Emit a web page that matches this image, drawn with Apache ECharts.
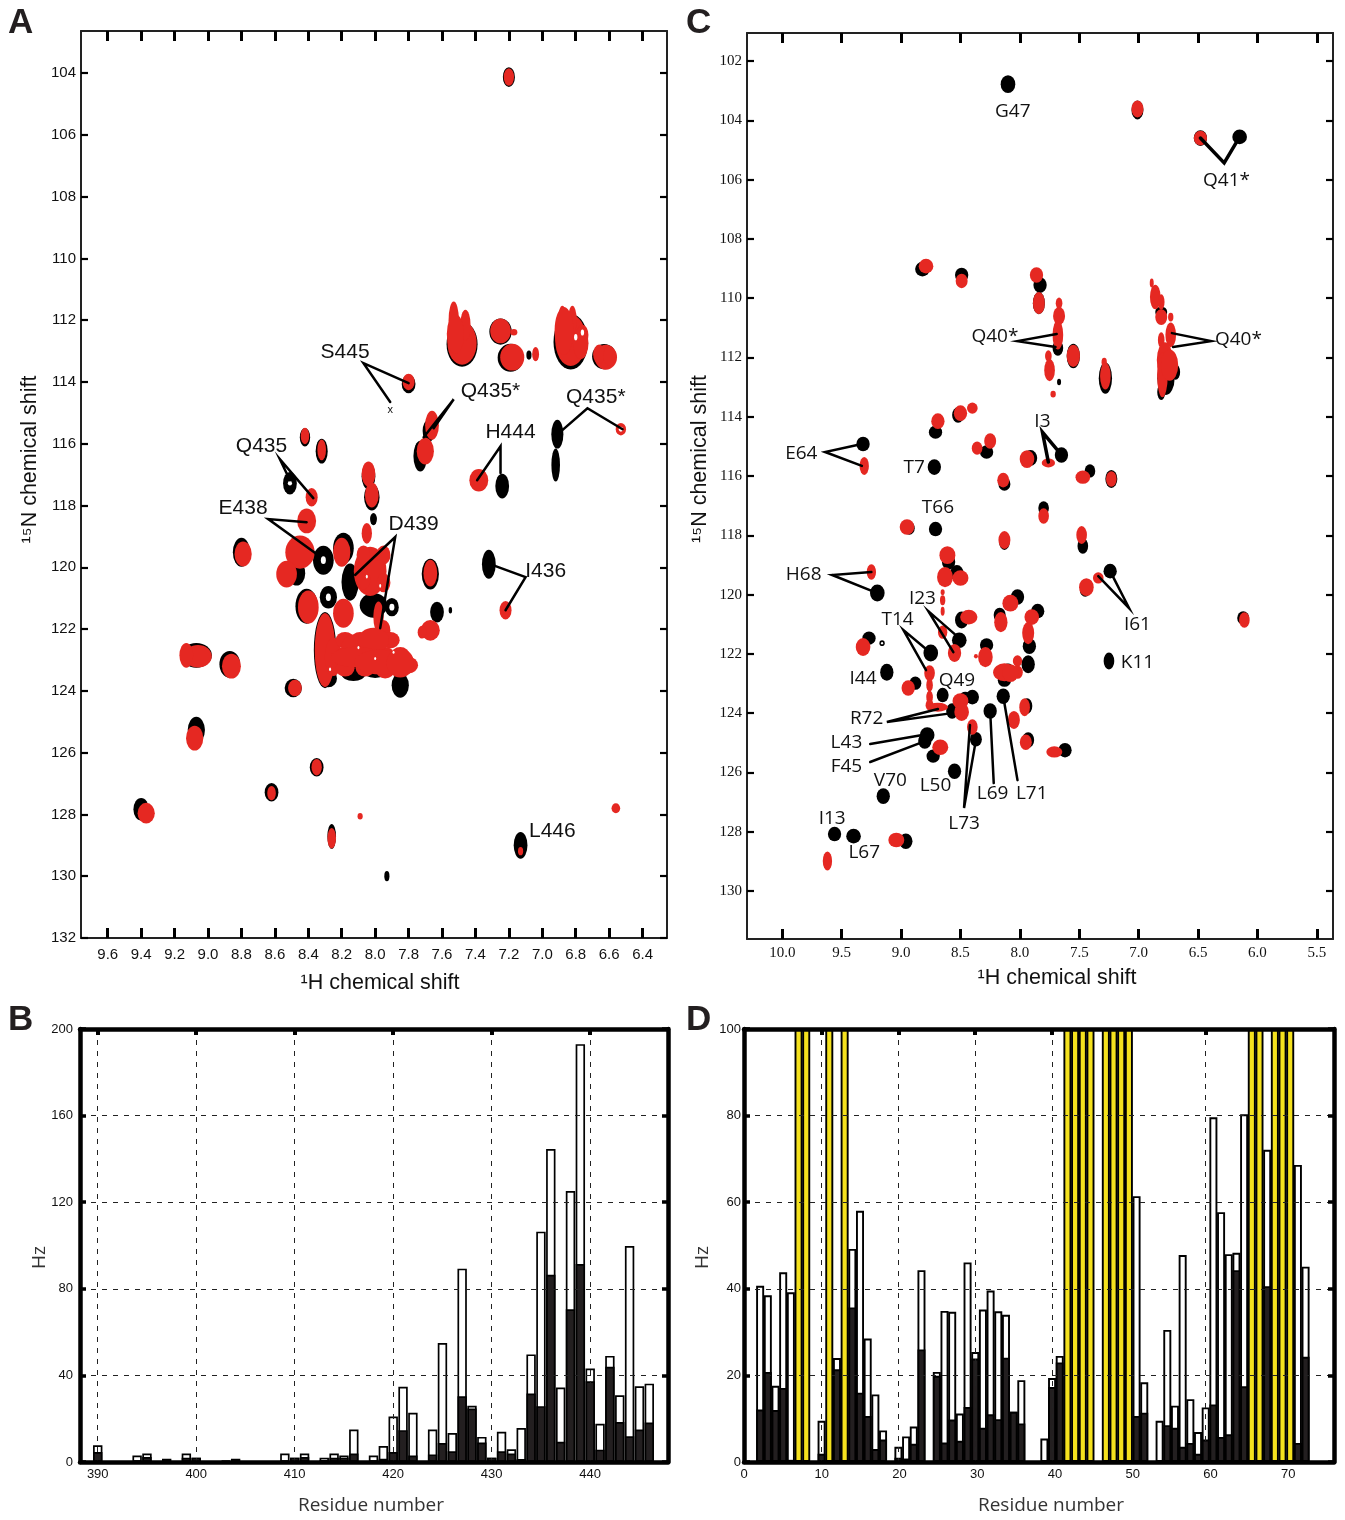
<!DOCTYPE html>
<html><head><meta charset="utf-8">
<style>html,body{margin:0;padding:0;background:#fff}#c{width:1345px;height:1520px}</style>
<script src="https://cdn.jsdelivr.net/npm/echarts@6/dist/echarts.min.js"></script>
</head><body><div id="c"></div>
<script>
// Axis ranges and ticks
const hRangeA=[6.254,9.76], nRangeA=[102.64,132];
const hRangeC=[5.364,10.297], nRangeC=[101.055,131.62];
const hTicksA=[9.6,9.4,9.2,9.0,8.8,8.6,8.4,8.2,8.0,7.8,7.6,7.4,7.2,7.0,6.8,6.6,6.4];
const nTicksA=[104,106,108,110,112,114,116,118,120,122,124,126,128,130,132];
const hTicksC=[10,9.5,9,8.5,8,7.5,7,6.5,6,5.5];
const nTicksC=[102,104,106,108,110,112,114,116,118,120,122,124,126,128,130];
const resRangeB=[388.2,447.9], resRangeD=[-0.1,76.7], resLabelRangeD=[0,75.9];
const resTicksB=[390,400,410,420,430,440], resTicksD=[10,20,30,40,60];
const resLabelsD=[0,10,20,30,40,50,60,70];
const hzTicksB=[0,40,80,120,160,200], hzTicksD=[0,20,40,60,80,100];

// Peaks: [1H ppm, 15N ppm, 1H extent, 15N extent]
const blackA=[[7.20,104.13,.07,.62],[7.48,112.78,.18,1.42],[7.25,112.37,.13,.82],[7.19,113.22,.15,.88],[7.08,113.13,.03,.29],[6.83,112.7,.2,1.75],[6.63,113.18,.14,.8],[7.80,114.07,.08,.58],[8.32,116.24,.07,.78],[8.42,115.79,.06,.58],[7.68,115.59,.07,.71],[7.73,116.4,.08,.97],[8.04,117.05,.08,.84],[8.02,117.73,.09,.84],[8.51,117.28,.08,.71],[7.24,117.37,.08,.78],[6.91,115.69,.07,.91],[6.92,116.69,.05,1.04],[8.01,118.44,.04,.39],[8.8,119.51,.1,.91],[8.47,120.19,.1,.78],[8.31,119.77,.12,.91],[8.19,119.38,.12,.97],[8.15,120.48,.1,1.17],[8.28,120.97,.1,.71],[8.01,121.23,.16,.78],[7.9,121.29,.08,.58],[8.41,121.26,.13,1.1],[7.85,123.82,.1,.78],[8.13,123.45,.14,.45],[8.28,123.6,.1,.55],[8.0,123.35,.15,.45],[8.3,122.68,.13,2.4],[7.67,120.22,.1,.97],[7.63,121.45,.08,.65],[7.55,121.39,.02,.2],[7.32,119.9,.08,.91],[9.07,122.85,.18,.78],[8.87,123.14,.12,.84],[8.49,123.91,.1,.58],[9.07,125.27,.1,.84],[8.35,126.47,.08,.58],[9.4,127.83,.09,.71],[8.62,127.28,.08,.58],[8.26,128.71,.05,.78],[7.13,129,.08,.84],[7.93,130,.03,.32]];
const redA=[[7.20,104.13,.06,.55],[7.48,112.74,.17,1.36],[7.53,112.0,.06,1.17],[7.46,112.16,.06,.97],[7.52,112.45,.1,1.25],[7.25,112.35,.12,.78],[7.18,113.2,.14,.84],[7.17,112.39,.04,.2],[7.04,113.1,.04,.45],[6.83,112.65,.18,1.62],[6.88,112.0,.05,.91],[6.82,112.0,.05,.91],[6.87,112.35,.11,1.5],[6.76,112.48,.07,.65],[6.77,112.75,.09,1.0],[6.62,113.2,.13,.78],[6.66,113.1,.07,.6],[6.6,113.15,.07,.6],[7.80,114.0,.07,.52],[8.32,116.2,.05,.65],[8.42,115.75,.05,.52],[7.66,115.4,.08,.91],[7.70,116.24,.1,.84],[8.04,116.98,.08,.78],[8.02,117.66,.08,.78],[7.38,117.18,.11,.71],[8.38,117.73,.07,.58],[8.41,118.5,.11,.78],[8.05,118.9,.06,.65],[8.79,119.57,.1,.78],[8.45,119.51,.17,1.04],[8.53,120.22,.12,.84],[8.2,119.51,.1,.91],[8.03,120.13,.19,1.55],[8.07,119.6,.08,.6],[7.95,119.6,.08,.6],[8.07,120.4,.08,.6],[7.95,120.5,.08,.6],[8.4,121.29,.12,1.04],[8.19,121.49,.12,.91],[7.98,121.61,.06,.97],[7.95,122.04,.08,.65],[8.3,122.68,.12,2.33],[8.25,122.9,.1,1.2],[8.18,122.36,.11,.52],[8.09,122.36,.11,.52],[8.0,122.5,.11,.52],[7.91,122.36,.11,.52],[8.18,122.85,.11,.52],[8.06,122.85,.11,.52],[7.94,122.85,.11,.52],[8.18,123.27,.11,.52],[8.06,123.27,.11,.52],[7.94,123.33,.11,.52],[7.85,122.85,.11,.52],[7.8,123.17,.11,.52],[8.13,122.59,.14,.78],[8.01,122.36,.18,.78],[8.11,122.91,.3,.65],[7.97,123.07,.3,.78],[7.85,123.1,.16,.91],[7.67,120.19,.08,.84],[7.67,122.04,.11,.65],[7.72,122.1,.05,.4],[7.22,121.39,.07,.58],[9.06,122.88,.16,.71],[9.13,122.85,.08,.78],[8.86,123.2,.11,.78],[8.48,123.91,.08,.52],[9.08,125.53,.1,.78],[8.35,126.47,.06,.52],[9.37,127.96,.1,.65],[8.62,127.31,.05,.45],[8.09,128.06,.03,.2],[8.26,128.77,.05,.65],[6.56,127.8,.05,.32],[7.13,129.19,.03,.26],[6.53,115.53,.06,.39]];
const holesA=[[8.51,117.28,.025,.15],[8.31,119.77,.03,.25],[8.28,120.97,.03,.25],[7.9,121.29,.03,.22],[6.53,115.53,.025,.16],[6.8,112.55,.02,.2],[6.76,112.4,.02,.2],[8.27,123.3,.012,.12],[8.1,122.6,.012,.1],[8.0,122.95,.012,.1],[7.97,120.6,.012,.12],[8.05,120.3,.012,.12],[7.89,122.75,.012,.1]];
const blackC=[[8.10,102.78,.11,.54],[7.01,103.65,.09,.57],[6.48,104.6,.1,.47],[6.15,104.56,.11,.44],[8.82,109.02,.11,.44],[8.49,109.22,.1,.44],[7.83,109.56,.1,.47],[7.84,110.17,.09,.67],[7.68,111.68,.08,.47],[7.55,111.95,.1,.74],[7.67,112.83,.03,.2],[7.28,112.7,.1,.94],[6.81,110.47,.09,.34],[6.77,112.7,.13,1.01],[6.81,113.17,.06,.47],[6.69,112.49,.07,.47],[8.71,114.52,.1,.4],[8.52,113.94,.09,.47],[8.28,115.19,.1,.4],[8.13,116.27,.09,.4],[7.91,115.39,.1,.47],[7.65,115.29,.1,.47],[7.41,115.83,.08,.4],[7.23,116.1,.09,.54],[8.72,115.7,.1,.47],[9.32,114.92,.1,.44],[8.93,117.76,.08,.4],[8.71,117.79,.1,.44],[7.8,117.08,.08,.4],[8.13,118.23,.08,.47],[7.47,118.36,.08,.47],[7.24,119.21,.1,.44],[7.45,119.85,.08,.4],[9.2,119.95,.11,.51],[8.6,118.9,.1,.47],[8.53,119.27,.1,.47],[8.49,120.86,.1,.51],[8.17,120.69,.09,.44],[8.02,120.08,.1,.47],[7.85,120.56,.1,.44],[7.92,121.74,.1,.47],[8.51,121.54,.11,.47],[8.75,121.97,.11,.51],[9.16,121.64,.04,.17],[9.27,121.47,.1,.4],[8.28,121.7,.1,.4],[7.93,122.35,.1,.54],[8.13,122.89,.1,.4],[8.1,122.48,.08,.27],[9.12,122.62,.1,.51],[8.88,122.99,.09,.4],[8.65,123.39,.09,.44],[8.4,123.46,.1,.44],[8.46,123.43,.08,.27],[8.57,123.93,.09,.47],[8.14,123.43,.1,.47],[8.25,123.93,.1,.47],[7.94,123.76,.08,.47],[7.93,124.91,.09,.47],[8.37,124.88,.09,.44],[8.78,124.74,.11,.47],[8.8,124.94,.1,.47],[8.73,125.45,.1,.4],[7.62,125.25,.1,.44],[8.55,125.96,.1,.47],[9.15,126.8,.1,.47],[9.56,128.08,.1,.44],[9.4,128.15,.11,.44],[8.96,128.32,.1,.47],[7.25,122.24,.08,.51],[6.12,120.79,.09,.4]];
const redC=[[7.01,103.62,.09,.51],[6.48,104.6,.1,.44],[8.79,108.92,.11,.44],[8.49,109.42,.09,.44],[7.86,109.22,.1,.47],[7.84,110.17,.09,.67],[7.67,110.17,.05,.34],[7.67,110.6,.09,.54],[7.68,111.24,.08,.88],[7.55,111.95,.1,.67],[7.76,111.95,.05,.34],[7.75,112.43,.08,.67],[7.72,113.24,.04,.2],[7.28,112.63,.08,.81],[7.29,112.16,.04,.27],[6.86,109.96,.08,.74],[6.89,109.49,.03,.27],[6.81,110.13,.05,.47],[6.81,110.64,.09,.47],[6.73,110.64,.04,.27],[6.73,111.24,.08,.74],[6.81,111.41,.05,.47],[6.78,112.09,.12,1.08],[6.8,112.59,.08,1.35],[6.74,112.26,.13,.94],[8.69,114.15,.1,.47],[8.5,113.88,.1,.47],[8.4,113.71,.08,.34],[8.36,115.06,.08,.4],[8.25,114.82,.09,.47],[8.14,116.14,.09,.44],[7.94,115.43,.11,.54],[7.76,115.56,.1,.27],[7.47,116.04,.11,.4],[7.23,116.1,.08,.47],[9.31,115.66,.07,.54],[8.95,117.72,.11,.47],[7.8,117.35,.08,.47],[8.13,118.16,.09,.54],[7.48,117.99,.08,.54],[7.34,119.44,.08,.34],[7.44,119.75,.11,.54],[9.25,119.24,.07,.47],[8.61,118.67,.12,.54],[8.63,119.41,.12,.61],[8.5,119.44,.12,.47],[8.65,119.92,.03,.17],[8.65,120.19,.04,.3],[8.65,120.56,.03,.27],[8.43,120.76,.13,.44],[8.16,120.93,.1,.61],[8.08,120.29,.12,.51],[7.9,120.76,.11,.47],[7.93,121.3,.09,.67],[8.55,121.97,.1,.54],[8.65,121.27,.07,.4],[8.76,122.65,.08,.47],[8.76,123.05,.05,.4],[8.76,123.46,.05,.4],[8.76,123.73,.06,.34],[8.69,123.8,.15,.27],[9.32,121.77,.11,.54],[8.29,122.11,.11,.61],[8.37,122.08,.03,.13],[8.02,122.24,.07,.34],[8.02,122.62,.08,.4],[8.13,122.62,.17,.54],[8.08,122.65,.12,.54],[8.94,123.15,.1,.47],[8.5,123.59,.12,.47],[8.49,123.96,.11,.54],[7.96,123.8,.08,.54],[8.05,124.23,.09,.54],[7.95,124.98,.09,.47],[8.4,124.47,.08,.47],[8.67,125.15,.12,.47],[7.71,125.31,.12,.34],[9.04,128.28,.12,.44],[9.62,128.99,.07,.57],[6.11,120.86,.08,.47]];
const holesC=[[9.16,121.64,.018,.08]];

// Peak labels: [text, 1H ppm, 15N ppm]
const labelsA=[["S445",8.18,113.03],["Q435*",7.31,114.3],["H444",7.19,115.62],["Q435*",6.68,114.49],["Q435",8.68,116.08],["E438",8.79,118.09],["D439",7.77,118.6],["I436",6.98,120.13],["L446",6.94,128.54]];
const markerA=[["x",7.91,114.91]];
const labelsC=[["G47",8.06,103.69],["Q41*",6.26,106.02],["Q40*",8.21,111.31],["Q40*",6.16,111.41],["E64",9.84,115.23],["I3",7.81,114.18],["T7",8.89,115.73],["T66",8.69,117.08],["H68",9.82,119.34],["I23",8.82,120.15],["T14",9.03,120.86],["I61",7.01,121.0],["K11",7.01,122.28],["I44",9.32,122.85],["Q49",8.53,122.89],["R72",9.29,124.2],["L43",9.46,125.01],["F45",9.46,125.82],["V70",9.09,126.26],["L50",8.71,126.46],["L69",8.23,126.7],["L71",7.9,126.7],["L73",8.47,127.71],["I13",9.58,127.57],["L67",9.31,128.72]];

// Leader lines between labels and peaks, in ppm
const leadersA=[[[7.80,114.04],[8.07,113.39],[7.91,114.65]],[[7.71,115.79],[7.53,114.56],[7.65,115.5]],[[7.39,117.18],[7.25,116.08],[7.25,116.95]],[[6.88,115.56],[6.73,114.85],[6.52,115.53]],[[8.51,117.18],[8.57,116.5],[8.37,117.76]],[[8.41,118.54],[8.64,118.44],[8.34,119.61]],[[8.12,120.25],[7.88,119.02],[7.97,121.97]],[[7.28,119.96],[7.1,120.32],[7.22,121.39]]];
const leadersC=[[[7.69,111.21],[8.02,111.45],[7.7,111.65]],[[6.72,111.18],[6.39,111.45],[6.71,111.65]],[[9.33,114.92],[9.64,115.19],[9.33,115.66]],[[9.25,119.24],[9.58,119.34],[9.2,119.95]],[[8.51,121.47],[8.77,120.56],[8.56,121.94]],[[8.76,121.94],[8.98,121.2],[8.79,122.55]],[[8.69,123.86],[9.12,124.3],[8.57,124]],[[9.26,125.04],[8.82,124.74]],[[9.26,125.65],[8.82,124.98]],[[8.42,124.4],[8.47,127.2],[8.37,124.91]],[[8.25,123.93],[8.22,126.36]],[[8.14,123.43],[8.02,126.26]],[[7.24,119.21],[7.08,120.46],[7.34,119.38]]];
const leadersHeavyC=[[[6.48,104.6],[6.28,105.44],[6.15,104.56]],[[7.65,115.29],[7.81,114.52],[7.76,115.53]]];

// Bars
const residuesB=[390,394,395,397,399,400,403,404,409,410,411,413,414,415,416,418,419,420,421,422,424,425,426,427,428,429,430,431,432,433,434,435,436,437,438,439,440,441,442,443,444,445,446];
const whiteB=[7.7,3,3.9,1.5,3.9,2,0.5,1.5,3.9,2,3.9,2,3.9,3,15,3,7.4,21,34.7,22.7,15,55,13.4,89.3,26,11.6,2,14,5.9,15.7,49.7,106.4,144.6,34.4,125.2,193,43.2,17.7,49,30.8,99.8,35,36.2];
const darkB=[4.6,0.5,2.3,0.3,2,2,0.5,0.5,0.5,2,2.3,1,2,2,3.9,0.7,1.5,4.6,14.7,3,3.5,8.8,5,30.4,24.7,9,2,5,3.9,1.4,31.6,25.8,86.5,9.3,70.5,91.4,37.3,5.7,44,18.5,11.9,15,18.2];
const residuesD=[2,3,4,5,6,10,12,14,15,16,17,18,20,21,22,23,25,26,27,28,29,30,31,32,33,34,35,36,39,40,41,51,52,54,55,56,57,58,59,60,61,62,63,64,65,68,72,73];
const whiteD=[40.7,38.5,17.6,43.8,39.2,9.5,24,49.2,58,28.5,15.6,7.3,3.5,5.9,8.2,44.3,20.8,34.9,34.7,11.2,46.1,25.4,35.2,39.6,34.8,34,11.6,18.9,5.4,19.4,24.5,61.4,18.4,9.5,30.5,13,47.8,14.5,6.9,12.6,79.6,57.7,48,48.3,80.3,72.1,68.6,45.1];
const darkD=[12.1,20.8,12,17.1,0.5,1.9,21.4,35.7,16,10.6,3,5.2,1,0.8,4.2,26,19.9,4.5,9.8,4.9,12.7,23.9,7.9,11,9.9,24.1,11.6,8.9,0,17.3,23,10.6,11.4,0,8.5,7.9,3.5,4.4,1.9,5.2,13.3,5.8,6.4,44.3,17.5,40.6,4.4,24.3];
const offScaleD=[7,8,11,13,42,43,44,45,47,48,49,50,66,67,69,70,71];
const offScaleValue=100;

const RED='#e52822', INK='#111', SANS='"Liberation Sans",sans-serif', SERIF='"Liberation Serif",serif', MYRIAD='"Open Sans",sans-serif';
const gridBoxes=[
 {left:81,top:31,width:586,height:907},
 {left:747,top:33,width:586,height:906},
 {left:80,top:1029,width:588,height:433},
 {left:744,top:1029,width:590,height:433}];
const fmt1=v=>v.toFixed(1), fmt0=v=>String(Math.round(v));

function axisBase(grid,range,line,extra){
  return Object.assign({type:'value',gridIndex:grid,min:range[0],max:range[1],scale:true,z:6,
    axisLine:{show:true,onZero:false,lineStyle:{color:line.color,width:line.width}},
    splitLine:{show:false},minorTick:{show:false},nameMoveOverlap:false},extra);
}
function ax(grid,range,pos,ticks,line,tick,label,extra){
  const o=axisBase(grid,range,line,Object.assign({position:pos},extra||{}));
  o.axisTick={show:true,inside:true,length:tick.length,customValues:ticks,lineStyle:{color:'#000',width:tick.width}};
  o.axisLabel=label?Object.assign({show:true,customValues:label.values||ticks,hideOverlap:false,showMinLabel:true,showMaxLabel:true},label.style):{show:false};
  return o;
}
const thin={color:'#222',width:2}, thick={color:'#000',width:4.5};
const lblA={style:{fontFamily:SANS,fontSize:15,color:INK}};
const lblC={style:{fontFamily:SERIF,fontSize:15,color:INK}};
const lblB={style:{fontFamily:SANS,fontSize:13,color:INK}};
const dash={show:true,lineStyle:{color:'#222',width:1,type:[5,6]}};
const nameH={name:'¹H chemical shift',nameLocation:'middle',nameTextStyle:{fontFamily:SANS,fontSize:21.5,color:INK}};
const nameN={name:'¹⁵N chemical shift',nameLocation:'middle',nameRotate:90,nameTextStyle:{fontFamily:SANS,fontSize:21.5,color:INK}};
const nameRes={name:'Residue number',nameLocation:'middle',nameTextStyle:{fontFamily:MYRIAD,fontSize:19,color:'#333'}};
const nameHz={name:'Hz',nameLocation:'middle',nameRotate:90,nameTextStyle:{fontFamily:MYRIAD,fontSize:19,color:'#333'}};
const pad=(o,p)=>{const c=JSON.parse(JSON.stringify(o));c.nameTextStyle.padding=p;return c;};

const xAxes=[
 ax(0,hRangeA,'bottom',hTicksA,thin,{length:10,width:3},{style:Object.assign({margin:9,formatter:fmt1},lblA.style)},Object.assign({inverse:true,nameGap:34},pad(nameH,[0,0,0,12]))),
 ax(0,hRangeA,'top',hTicksA,thin,{length:10,width:3},null,{inverse:true}),
 ax(1,hRangeC,'bottom',hTicksC,thin,{length:10,width:3},{style:Object.assign({margin:7,formatter:fmt1},lblC.style)},Object.assign({inverse:true,nameGap:28},pad(nameH,[0,0,0,34]))),
 ax(1,hRangeC,'top',hTicksC,thin,{length:10,width:3},null,{inverse:true}),
 ax(2,resRangeB,'bottom',resTicksB,thick,{length:0,width:0},{style:Object.assign({margin:6,formatter:fmt0},lblB.style)},Object.assign({splitLine:dash,nameGap:34},pad(nameRes,[0,6,0,0]))),
 ax(2,resRangeB,'top',resTicksB,thick,{length:6,width:4},null),
 ax(3,resLabelRangeD,'bottom',resLabelsD,thick,{length:0,width:0},{style:Object.assign({margin:6,formatter:fmt0},lblB.style)},Object.assign({nameGap:34},pad(nameRes,[0,0,0,24]))),
 ax(3,resRangeD,'top',resTicksD,thick,{length:6,width:4},null,{splitLine:dash})
];
const yAxes=[
 ax(0,nRangeA,'left',nTicksA,thin,{length:7,width:2.2},{style:Object.assign({margin:5,formatter:fmt0,padding:[3,0,0,0]},lblA.style)},Object.assign({inverse:true,nameGap:40},pad(nameN,[0,0,0,50]))),
 ax(0,nRangeA,'right',nTicksA,thin,{length:7,width:2.2},null,{inverse:true}),
 ax(1,nRangeC,'left',nTicksC,thin,{length:7,width:2.2},{style:Object.assign({margin:5,formatter:fmt0,padding:[2,0,0,0]},lblC.style)},Object.assign({inverse:true,nameGap:36},pad(nameN,[0,0,0,54]))),
 ax(1,nRangeC,'right',nTicksC,thin,{length:7,width:2.2},null,{inverse:true}),
 ax(2,[0,200],'left',hzTicksB,thick,{length:6,width:3.5},{style:Object.assign({margin:7,formatter:fmt0},lblB.style)},Object.assign({splitLine:dash,nameGap:31},pad(nameHz,[0,24,0,0]))),
 ax(2,[0,200],'right',hzTicksB,thick,{length:6,width:3.5},null),
 ax(3,[0,100],'left',hzTicksD,thick,{length:6,width:3.5},{style:Object.assign({margin:3,formatter:fmt0},lblB.style)},Object.assign({splitLine:dash,nameGap:32},pad(nameHz,[0,24,0,0]))),
 ax(3,[0,100],'right',hzTicksD,thick,{length:6,width:3.5},null)
];

function peakSeries(g,data,color,range,nRange,z,grow){
  const kx=grow*gridBoxes[g].width/(range[1]-range[0]), ky=grow*gridBoxes[g].height/(nRange[1]-nRange[0]);
  return {type:'scatter',xAxisIndex:g*2,yAxisIndex:g*2,data:data,z:z,symbol:'circle',silent:true,animation:false,
    symbolSize:v=>[v[2]*kx,v[3]*ky],itemStyle:{color:color,opacity:1}};
}
function leaderSeries(g,list,w){
  return list.map(p=>({type:'line',xAxisIndex:g*2,yAxisIndex:g*2,data:p,symbol:'none',silent:true,animation:false,z:4,clip:false,
    lineStyle:{color:'#000',width:w,cap:'round',join:'miter'}}));
}
function labelSeries(g,list,font,size,color){
  return {type:'scatter',xAxisIndex:g*2,yAxisIndex:g*2,symbolSize:1,z:5,silent:true,animation:false,clip:false,
    itemStyle:{color:'transparent'},
    data:list.map(l=>({name:l[0],value:[l[1],l[2]]})),
    label:{show:true,position:'inside',distance:0,formatter:p=>p.name,fontFamily:font,fontSize:size,color:color,textBorderWidth:0,textBorderColor:'transparent',textShadowBlur:0,opacity:1,align:'center',verticalAlign:'middle'},
    labelLayout:{hideOverlap:false},emphasis:{disabled:true}};
}
const pairs=(xs,ys)=>xs.map((x,j)=>[x,ys[j]]);
function barSeries(xi,yi,data,fill,bw,bd){
  return {type:'bar',xAxisIndex:xi,yAxisIndex:yi,data:data,barWidth:bw,barGap:'-100%',silent:true,animation:false,z:2,
    itemStyle:{color:fill,borderColor:'#000',borderWidth:bd}};
}

const series=[
 peakSeries(0,blackA,'#000',hRangeA,nRangeA,2,1.03),
 peakSeries(0,redA,RED,hRangeA,nRangeA,3,1.03),
 peakSeries(0,holesA,'#fff',hRangeA,nRangeA,3.5,1),
 ...leaderSeries(0,leadersA,2.5),
 labelSeries(0,labelsA,SANS,21,'#111'),
 labelSeries(0,markerA,SANS,11,'#111'),
 peakSeries(1,blackC,'#000',hRangeC,nRangeC,2,1.12),
 peakSeries(1,redC,RED,hRangeC,nRangeC,3,1.12),
 peakSeries(1,holesC,'#fff',hRangeC,nRangeC,3.5,1),
 ...leaderSeries(1,leadersC,2.5),
 ...leaderSeries(1,leadersHeavyC,3.5),
 labelSeries(1,labelsC,MYRIAD,19,'#111'),
 barSeries(4,4,pairs(residuesB,whiteB),'#fff',9.4,1.7),
 barSeries(4,4,pairs(residuesB,darkB),'#231f20',9.4,1.7),
 barSeries(7,6,pairs(residuesD,whiteD),'#fff',8,1.9),
 barSeries(7,6,pairs(residuesD,darkD),'#231f20',8,1.9),
 barSeries(7,6,offScaleD.map(r=>[r,offScaleValue]),'#f4e11e',8,1.9)
];

const panelTitle=(t,x,y)=>({text:t,left:x,top:y,padding:0,textStyle:{fontFamily:'"Liberation Sans",sans-serif',fontWeight:'bold',fontSize:35,color:'#231f20'}});
const chart=echarts.init(document.getElementById('c'),null,{renderer:'canvas',width:1345,height:1520});
chart.setOption({
  animation:false,backgroundColor:'#fff',
  title:[panelTitle('A',8,6),panelTitle('C',686,6),panelTitle('B',8,1003),panelTitle('D',686,1003)],
  grid:gridBoxes.map(g=>Object.assign({containLabel:false,show:false},g)),
  xAxis:xAxes,yAxis:yAxes,series:series
});
</script></body></html>
